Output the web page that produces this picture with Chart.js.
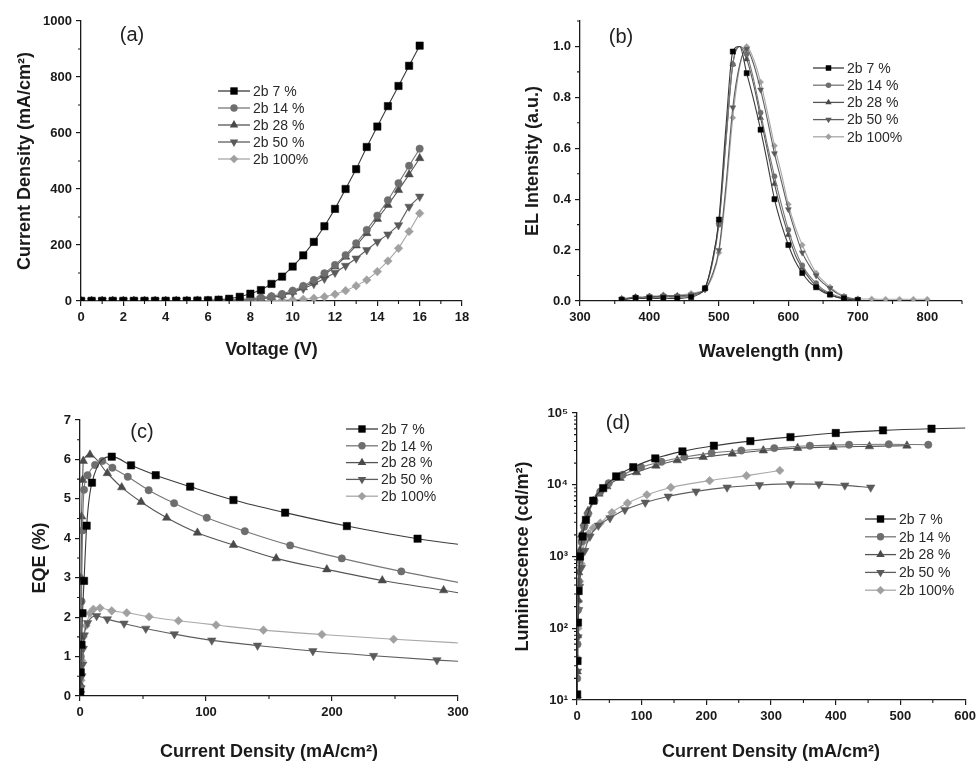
<!DOCTYPE html>
<html>
<head>
<meta charset="utf-8">
<script src="https://cdn.jsdelivr.net/npm/chart.js@4.4.1/dist/chart.umd.min.js"></script>
<style>
  body { margin: 0; background: #fff; }
  #wrap { position: relative; width: 980px; height: 763px; }
  canvas { position: absolute; }
</style>
</head>
<body>
<div id="wrap">
  <canvas id="ca" width="490" height="380" style="left:0;top:0"></canvas>
  <canvas id="cb" width="490" height="380" style="left:490px;top:0"></canvas>
  <canvas id="cc" width="490" height="383" style="left:0;top:380px"></canvas>
  <canvas id="cd" width="490" height="383" style="left:490px;top:380px"></canvas>
</div>
<script>
// (a) J-V
const voltage = [0,0.5,1,1.5,2,2.5,3,3.5,4,4.5,5,5.5,6,6.5,7,7.5,8,8.5,9,9.5,10,10.5,11,11.5,12,12.5,13,13.5,14,14.5,15,15.5,16];
const jv7   = [0.5,0.5,0.5,0.5,0.5,0.6,0.6,0.7,0.8,1.0,1.2,1.6,2.5,4.5,8,15,26,39,61,87,123,163,211,267,329,400,471,550,623,696,768,840,912];
const jv14  = [0.4,0.4,0.4,0.4,0.4,0.5,0.5,0.5,0.6,0.7,0.9,1.1,1.5,2.5,4,6,8,12,17,25,37,54,75,99,129,164,206,254,305,360,421,483,544];
const jv28  = [0.4,0.4,0.4,0.4,0.4,0.4,0.5,0.5,0.5,0.6,0.7,0.9,1.2,2,3,4.5,6,9,14,21,33,49,69,93,123,158,198,242,293,343,396,452,510];
const jv50  = [0.3,0.3,0.3,0.3,0.3,0.4,0.4,0.4,0.5,0.5,0.6,0.8,1.0,1.5,2.5,3.5,5,8,12,19,30,44,61,80,101,126,152,182,212,238,271,337,373];
const jv100 = [0.3,0.3,0.3,0.3,0.3,0.3,0.3,0.3,0.4,0.4,0.4,0.5,0.5,0.6,0.7,0.8,1.0,1.2,1.5,2.5,4,6,10,15,24,37,54,75,105,143,188,248,313];

// (b) EL spectra
const wavelength = [360,370,380,390,400,410,420,430,440,450,460,470,480,490,500,510,520,530,540,550,560,570,580,590,600,610,620,630,640,650,660,670,680,690,700];
const wavelength100 = [360,370,380,390,400,410,420,430,440,450,460,470,480,490,500,510,520,530,540,550,560,570,580,590,600,610,620,630,640,650,660,670,680,690,700,710,720,730,740,750,760,770,780,790,800];
const el7   = [0.005,0.008,0.012,0.010,0.012,0.010,0.012,0.010,0.010,0.012,0.015,0.025,0.050,0.150,0.320,0.680,0.980,1.000,0.895,0.790,0.673,0.540,0.400,0.300,0.220,0.155,0.110,0.075,0.054,0.035,0.025,0.015,0.010,0.006,0.004];
const el14  = [0.006,0.010,0.012,0.012,0.015,0.012,0.018,0.015,0.015,0.018,0.020,0.030,0.050,0.140,0.300,0.620,0.930,1.000,0.970,0.870,0.740,0.610,0.490,0.380,0.280,0.200,0.140,0.100,0.070,0.045,0.030,0.020,0.012,0.008,0.005];
const el28  = [0.008,0.010,0.015,0.012,0.018,0.015,0.020,0.018,0.020,0.020,0.022,0.030,0.050,0.150,0.310,0.630,0.930,1.000,0.950,0.850,0.720,0.590,0.460,0.350,0.260,0.180,0.130,0.090,0.060,0.040,0.025,0.015,0.010,0.006,0.004];
const el50  = [0.008,0.012,0.015,0.015,0.018,0.018,0.020,0.020,0.020,0.022,0.025,0.032,0.045,0.100,0.200,0.450,0.760,0.930,0.990,0.930,0.830,0.710,0.580,0.470,0.360,0.270,0.190,0.140,0.100,0.070,0.050,0.030,0.018,0.010,0.006];
const el100 = [0.010,0.012,0.018,0.015,0.020,0.018,0.025,0.020,0.022,0.025,0.030,0.035,0.045,0.090,0.190,0.420,0.720,0.920,1.000,0.950,0.860,0.740,0.610,0.500,0.380,0.290,0.220,0.160,0.110,0.080,0.055,0.035,0.020,0.012,0.009,0.008,0.008,0.007,0.007,0.007,0.007,0.007,0.007,0.007,0.007];

// (c) EQE vs current density
const eqeJ7   = [0.2,0.6,1.2,2.0,3.2,5.3,9.5,25.2,40.5,60.1,87.4,121.8,162.8,211.8,267.9,330];
const eqe7    = [0.1,0.6,1.3,2.1,2.92,4.32,5.41,6.07,5.85,5.6,5.31,4.97,4.65,4.31,3.99,3.73];
const eqeJ14  = [0.2,0.6,1.2,2.0,3.2,6.0,11.9,17.7,25.7,37.9,54.5,74.7,100.6,130.8,166.8,207.8,255,310];
const eqe14   = [0.2,1.0,2.4,4.2,5.23,5.6,5.86,5.96,5.79,5.56,5.22,4.89,4.52,4.18,3.82,3.49,3.16,2.82];
const eqeJ28  = [0.2,0.5,0.9,1.3,2.1,2.6,7.9,21.7,33.1,48.5,68.8,93.2,121.8,155.7,195.9,239.9,288.6,330];
const eqe28   = [0.3,1.5,3.0,4.55,5.48,5.96,6.12,5.65,5.29,4.92,4.52,4.14,3.83,3.49,3.21,2.93,2.68,2.46];
const eqeJ50  = [0.3,0.8,1.5,2.2,2.6,3.4,6,13.2,21.7,35,52.2,74.9,104.6,140.9,184.8,233,283.3,330];
const eqe50   = [0.05,0.2,0.5,0.8,1.2,1.54,1.85,2.03,1.95,1.84,1.71,1.57,1.41,1.28,1.14,1.02,0.91,0.83];
const eqeJ100 = [0.3,0.8,1.3,1.9,2.6,4.8,7.9,10.6,15.9,25.2,37.1,54.8,78.1,108,145.6,192,248.9,320];
const eqe100  = [0.1,0.4,0.9,1.24,1.5,1.78,2.1,2.2,2.23,2.16,2.11,2.01,1.91,1.8,1.67,1.56,1.44,1.31];

// (d) luminance vs current density
const lumJ7   = [0.3,0.8,1.5,2.5,4.6,8.7,13.8,25,40.5,60.5,87,121,163,211.6,268,330,400,473,548,640];
const lum7    = [12,35,120,330,1000,1900,3240,6000,8970,13100,17600,23300,29200,35000,40600,46200,52600,57300,60400,63000];
const lumJ14  = [0.3,0.8,1.5,2.5,4,7,11,17,27,36,49,70.7,99,130.6,166,208,254,305,360,420.6,482,543];
const lum14   = [20,60,180,450,900,1600,2600,3900,6000,8000,10500,13800,17600,20900,24300,27600,30000,32400,35000,36100,36600,36100];
const lumJ28  = [0.3,0.8,1.5,2.5,4,7,11,17,25,34,46,66.6,92,122,155,195,240,288,341,396,452,510];
const lum28   = [25,80,250,600,1200,2000,2900,4300,5900,7500,9480,12400,14900,18400,21900,24300,27100,30000,32400,33600,34300,35000];
const lumJ50  = [0.3,0.8,1.5,2.5,4,7,12,20,33,51,74,105.5,141,184,232,282,330,374,414,454];
const lum50   = [10,25,75,180,380,700,1200,1900,2700,3430,4470,5660,6870,8080,9180,9900,10300,10200,9800,9180];
const lumJ100 = [0.3,0.8,1.5,2.5,4,6,9,13,18,25,36,54,78,108,145,205,262,313.5];
const lum100  = [10,38,100,240,450,800,1200,1700,2100,2500,2920,4110,5550,7250,9180,11400,13400,15800];

const labels = ['2b 7 %', '2b 14 %', '2b 28 %', '2b 50 %', '2b 100%'];

const INK = '#1a1a1a';
const FONT = '"Liberation Sans", Arial, sans-serif';
const series = [
  {color: '#000000', line: '#3a3a3a', style: 'rect',     r: 5.2, rot: 0},
  {color: '#6e6e6e', line: '#777777', style: 'circle',   r: 3.7, rot: 0},
  {color: '#4a4a4a', line: '#555555', style: 'triangle', r: 4.9, rot: 0},
  {color: '#5a5a5a', line: '#5e5e5e', style: 'triangle', r: 4.9, rot: 180},
  {color: '#a0a0a0', line: '#a8a8a8', style: 'rectRot',  r: 4.3, rot: 0}
];

function pts(xs, ys) { return xs.map((x, i) => ({x: x, y: ys[i]})); }

function datasets(xsList, ysList, k, smooth, every) {
  return ysList.map((ys, i) => {
    const s = series[i], r = s.r * k;
    return {
      label: labels[i],
      data: pts(xsList[i], ys),
      showLine: true,
      borderColor: s.line,
      borderWidth: 1.1,
      backgroundColor: s.color,
      pointStyle: s.style,
      pointRotation: s.rot,
      pointRadius: every ? (c => (c.dataIndex % every ? 0 : r)) : r,
      pointHoverRadius: r,
      pointBackgroundColor: s.color,
      pointBorderColor: s.color,
      pointBorderWidth: 0.5,
      cubicInterpolationMode: smooth ? 'monotone' : 'default',
      tension: 0
    };
  });
}

function axis(o) {
  const a = {
    type: o.type || 'linear',
    min: o.min, max: o.max,
    border: {display: true, color: INK, width: 1.3},
    grid: {display: true, drawOnChartArea: false, drawTicks: true, tickLength: 5, color: INK, lineWidth: 1.2},
    ticks: {includeBounds: false, autoSkip: false, maxRotation: 0, padding: 4, color: INK,
            font: {family: FONT, size: 13, weight: 'bold'}},
    title: {display: true, text: o.title, color: INK, font: {family: FONT, size: 18, weight: 'bold'},
            padding: o.tpad},
    afterFit: s => { if (s.isHorizontal()) s.height = o.size; else s.width = o.size; }
  };
  if (o.step) a.ticks.stepSize = o.step;
  if (o.fmt) a.ticks.callback = o.fmt;
  if (o.build) a.afterBuildTicks = o.build;
  return a;
}

function mark(ctx, s, x, y, k) {
  const r = s.r * k;
  ctx.fillStyle = s.color;
  ctx.beginPath();
  if (s.style === 'rect') {
    const h = r * Math.SQRT1_2;
    ctx.rect(x - h, y - h, 2 * h, 2 * h);
  } else if (s.style === 'circle') {
    ctx.arc(x, y, r, 0, Math.PI * 2);
  } else if (s.style === 'rectRot') {
    ctx.moveTo(x, y - r); ctx.lineTo(x + r, y); ctx.lineTo(x, y + r); ctx.lineTo(x - r, y);
  } else {
    for (let i = 0; i < 3; i++) {
      const a = (s.rot ? Math.PI : 0) + i * 2 * Math.PI / 3;
      const px = x + Math.sin(a) * r, py = y - Math.cos(a) * r;
      if (i) ctx.lineTo(px, py); else ctx.moveTo(px, py);
    }
  }
  ctx.closePath();
  ctx.fill();
}

// minor ticks, legend with line+marker samples, panel tag
const decor = {
  id: 'decor',
  afterDraw(chart, args, opts) {
    const ctx = chart.ctx;
    ctx.save();
    ['x', 'y'].forEach(id => {
      const s = chart.scales[id], m = opts.minor[id];
      const vals = [];
      if (m === 'log') {
        for (let d = s.min; d < s.max * 0.999; d *= 10)
          for (let j = 2; j <= 9; j++) vals.push(d * j);
      } else {
        const n = Math.round((s.max - s.min) / m);
        for (let j = 0; j <= n; j++) vals.push(s.min + j * m);
      }
      const majors = s.ticks.map(t => t.value);
      ctx.strokeStyle = INK;
      ctx.lineWidth = 1.1;
      ctx.beginPath();
      vals.forEach(v => {
        if (majors.some(mv => Math.abs(mv - v) < 1e-6 * Math.max(1, Math.abs(v)))) return;
        const p = s.getPixelForValue(v);
        if (id === 'x') { ctx.moveTo(p, s.top); ctx.lineTo(p, s.top + 3); }
        else { ctx.moveTo(s.right, p); ctx.lineTo(s.right - 3, p); }
      });
      ctx.stroke();
    });

    const L = opts.legend;
    ctx.font = '14px ' + FONT;
    ctx.textBaseline = 'middle';
    ctx.textAlign = 'left';
    chart.data.datasets.forEach((ds, i) => {
      const s = series[i], y = L.y + i * L.dy;
      ctx.strokeStyle = s.line;
      ctx.lineWidth = 1.3;
      ctx.beginPath();
      ctx.moveTo(L.x, y); ctx.lineTo(L.x + L.w, y);
      ctx.stroke();
      mark(ctx, s, L.x + L.w / 2, y, L.k);
      ctx.fillStyle = '#2a2a2a';
      ctx.fillText(ds.label, L.x + L.w + 3, y + 1);
    });

    ctx.font = '20px ' + FONT;
    ctx.fillStyle = '#222';
    ctx.textAlign = 'center';
    ctx.fillText(opts.tag.text, opts.tag.x, opts.tag.y);
    ctx.restore();
  }
};

function make(id, data, x, y, pad, decorOpts) {
  return new Chart(document.getElementById(id), {
    type: 'scatter',
    data: {datasets: data},
    options: {
      responsive: false,
      animation: false,
      events: [],
      layout: {padding: pad},
      scales: {x: x, y: y},
      plugins: {legend: {display: false}, tooltip: {enabled: false}, decor: decorOpts}
    },
    plugins: [decor]
  });
}

const plain = v => String(v);
const sup = ['⁰', '¹', '²', '³', '⁴', '⁵'];

make('ca',
  datasets([voltage, voltage, voltage, voltage, voltage], [jv7, jv14, jv28, jv50, jv100], 1, false, 0),
  axis({min: 0, max: 18, step: 2, title: 'Voltage (V)', size: 79, tpad: {top: 0, bottom: 19}, fmt: plain}),
  axis({min: 0, max: 1000, step: 200, title: 'Current Density (mA/cm²)', size: 81, tpad: {top: 14, bottom: 0}, fmt: plain}),
  {left: 0, top: 21, right: 28, bottom: 0},
  {minor: {x: 1, y: 100}, legend: {x: 218, y: 91, dy: 17, w: 32, k: 1}, tag: {text: '(a)', x: 132, y: 35}}
);

make('cb',
  datasets([wavelength, wavelength, wavelength, wavelength, wavelength100], [el7, el14, el28, el50, el100], 0.7, true, 2),
  axis({min: 300, max: 850, step: 100, title: 'Wavelength (nm)', size: 79, tpad: {top: 0, bottom: 17}, fmt: plain}),
  axis({min: 0, max: 1.1, step: 0.2, title: 'EL Intensity (a.u.)', size: 90, tpad: {top: 32, bottom: 0}, fmt: v => v.toFixed(1)}),
  {left: 0, top: 21, right: 18, bottom: 0},
  {minor: {x: 50, y: 0.1}, legend: {x: 323, y: 68, dy: 17.2, w: 31, k: 0.75}, tag: {text: '(b)', x: 131, y: 37}}
);

make('cc',
  datasets([eqeJ7, eqeJ14, eqeJ28, eqeJ50, eqeJ100], [eqe7, eqe14, eqe28, eqe50, eqe100], 1, true, 0),
  axis({min: 0, max: 300, step: 100, title: 'Current Density (mA/cm²)', size: 67, tpad: {top: 0, bottom: 0}, fmt: plain}),
  axis({min: 0, max: 7, step: 1, title: 'EQE (%)', size: 80, tpad: {top: 29, bottom: 0}, fmt: plain}),
  {left: 0, top: 40, right: 32, bottom: 0},
  {minor: {x: 50, y: 0.5}, legend: {x: 346, y: 49, dy: 16.8, w: 32, k: 1}, tag: {text: '(c)', x: 142, y: 52}}
);

make('cd',
  datasets([lumJ7, lumJ14, lumJ28, lumJ50, lumJ100], [lum7, lum14, lum28, lum50, lum100], 1, true, 0),
  axis({min: 0, max: 600, step: 100, title: 'Current Density (mA/cm²)', size: 63, tpad: {top: 0, bottom: 0}, fmt: plain}),
  axis({type: 'logarithmic', min: 10, max: 100000, title: 'Luminescence (cd/m²)', size: 87, tpad: {top: 22, bottom: 0},
        fmt: v => '10' + sup[Math.round(Math.log10(v))],
        build: s => { s.ticks = [10, 100, 1000, 10000, 100000].map(v => ({value: v, major: true})); }}),
  {left: 0, top: 33, right: 12, bottom: 0},
  {minor: {x: 50, y: 'log'}, legend: {x: 375, y: 139, dy: 17.8, w: 31, k: 1}, tag: {text: '(d)', x: 128, y: 43}}
);
</script>
</body>
</html>
